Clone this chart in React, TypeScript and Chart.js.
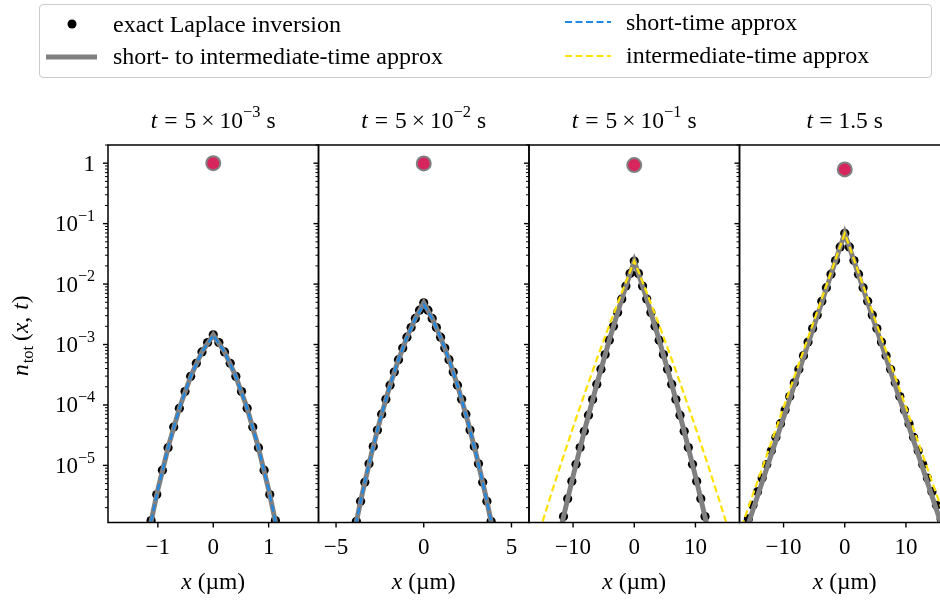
import React, { useEffect, useRef } from "react";
import { Chart, registerables } from "chart.js";

Chart.register(...registerables);

// ---------------- data ----------------
const RED_X = [0, 0, 0, 0];
const RED_Y = [1.0, 0.99, 0.93, 0.79];

// panel 1 : t = 5e-3 s
const P1_DOT_X = [-1.122, -1.02, -0.918, -0.816, -0.714, -0.612, -0.51, -0.408, -0.306, -0.204, -0.102, 0, 0.102, 0.204, 0.306, 0.408, 0.51, 0.612, 0.714, 0.816, 0.918, 1.02, 1.122];
const P1_DOT_Y = [1.22e-6, 3.3e-6, 8.34e-6, 1.96e-5, 4.3e-5, 8.79e-5, 1.67e-4, 2.97e-4, 4.9e-4, 7.54e-4, 1.08e-3, 1.45e-3, 1.08e-3, 7.54e-4, 4.9e-4, 2.97e-4, 1.67e-4, 8.79e-5, 4.3e-5, 1.96e-5, 8.34e-6, 3.3e-6, 1.22e-6];
const P1_LINE_X = [-1.2, -1.0, -0.8, -0.6, -0.4, -0.2, 0, 0.2, 0.4, 0.6, 0.8, 1.0, 1.2];
const P1_GRAY_Y = [5.42e-7, 3.98e-6, 2.23e-5, 9.51e-5, 3.09e-4, 7.66e-4, 1.45e-3, 7.66e-4, 3.09e-4, 9.51e-5, 2.23e-5, 3.98e-6, 5.42e-7];
const P1_BLUE_Y = [5.42e-7, 3.98e-6, 2.23e-5, 9.51e-5, 3.09e-4, 7.66e-4, 1.42e-3, 7.66e-4, 3.09e-4, 9.51e-5, 2.23e-5, 3.98e-6, 5.42e-7];

// panel 2 : t = 5e-2 s
const P2_DOT_X = [-3.84, -3.6, -3.36, -3.12, -2.88, -2.64, -2.4, -2.16, -1.92, -1.68, -1.44, -1.2, -0.96, -0.72, -0.48, -0.24, 0, 0.24, 0.48, 0.72, 0.96, 1.2, 1.44, 1.68, 1.92, 2.16, 2.4, 2.64, 2.88, 3.12, 3.36, 3.6, 3.84];
const P2_DOT_Y = [1.19e-6, 2.55e-6, 5.27e-6, 1.06e-5, 2.05e-5, 3.85e-5, 7.03e-5, 1.24e-4, 2.12e-4, 3.51e-4, 5.62e-4, 8.73e-4, 1.32e-3, 1.91e-3, 2.7e-3, 3.7e-3, 4.9e-3, 3.7e-3, 2.7e-3, 1.91e-3, 1.32e-3, 8.73e-4, 5.62e-4, 3.51e-4, 2.12e-4, 1.24e-4, 7.03e-5, 3.85e-5, 2.05e-5, 1.06e-5, 5.27e-6, 2.55e-6, 1.19e-6];
const P2_LINE_X = [-4, -3.5, -3, -2.5, -2, -1.5, -1, -0.5, 0, 0.5, 1, 1.5, 2, 2.5, 3, 3.5, 4];
const P2_GRAY_Y = [7.08e-7, 3.47e-6, 1.48e-5, 5.5e-5, 1.78e-4, 5.01e-4, 1.23e-3, 2.63e-3, 4.9e-3, 2.63e-3, 1.23e-3, 5.01e-4, 1.78e-4, 5.5e-5, 1.48e-5, 3.47e-6, 7.08e-7];
const P2_BLUE_Y = [7.08e-7, 3.47e-6, 1.48e-5, 5.5e-5, 1.78e-4, 5.01e-4, 1.23e-3, 2.6e-3, 4.6e-3, 2.6e-3, 1.23e-3, 5.01e-4, 1.78e-4, 5.5e-5, 1.48e-5, 3.47e-6, 7.08e-7];

// panel 3 : t = 5e-1 s
const P3_DOT_X = [-11.56, -10.88, -10.2, -9.52, -8.84, -8.16, -7.48, -6.8, -6.12, -5.44, -4.76, -4.08, -3.4, -2.72, -2.04, -1.36, -0.68, 0, 0.68, 1.36, 2.04, 2.72, 3.4, 4.08, 4.76, 5.44, 6.12, 6.8, 7.48, 8.16, 8.84, 9.52, 10.2, 10.88, 11.56];
const P3_DOT_Y = [1.43e-6, 2.81e-6, 5.46e-6, 1.04e-5, 1.97e-5, 3.67e-5, 6.76e-5, 1.23e-4, 2.21e-4, 3.91e-4, 6.84e-4, 1.18e-3, 2.01e-3, 3.39e-3, 5.64e-3, 9.25e-3, 1.5e-2, 2.4e-2, 1.5e-2, 9.25e-3, 5.64e-3, 3.39e-3, 2.01e-3, 1.18e-3, 6.84e-4, 3.91e-4, 2.21e-4, 1.23e-4, 6.76e-5, 3.67e-5, 1.97e-5, 1.04e-5, 5.46e-6, 2.81e-6, 1.43e-6];
const P3_LINE_X = [-12, -10, -8, -6, -4, -2, 0, 2, 4, 6, 8, 10, 12];
const P3_GRAY_Y = [9.2e-7, 6.61e-6, 4.25e-5, 2.44e-4, 1.26e-3, 5.81e-3, 2.4e-2, 5.81e-3, 1.26e-3, 2.44e-4, 4.25e-5, 6.61e-6, 9.2e-7];
const P3_YEL_X = [-16, -14, -12, -10, -8, -6, -4, -2, 0, 2, 4, 6, 8, 10, 12, 14, 16];
const P3_YEL_Y = [5.5e-7, 2.45e-6, 1.05e-5, 4.27e-5, 1.66e-4, 6.17e-4, 2.19e-3, 7.41e-3, 2.4e-2, 7.41e-3, 2.19e-3, 6.17e-4, 1.66e-4, 4.27e-5, 1.05e-5, 2.45e-6, 5.5e-7];

// panel 4 : t = 1.5 s
const P4_DOT_X = [-15.75, -15, -14.25, -13.5, -12.75, -12, -11.25, -10.5, -9.75, -9, -8.25, -7.5, -6.75, -6, -5.25, -4.5, -3.75, -3, -2.25, -1.5, -0.75, 0, 0.75, 1.5, 2.25, 3, 3.75, 4.5, 5.25, 6, 6.75, 7.5, 8.25, 9, 9.75, 10.5, 11.25, 12, 12.75, 13.5, 14.25, 15, 15.75];
const P4_DOT_Y = [1.3e-6, 2.19e-6, 3.67e-6, 6.17e-6, 1.035e-5, 1.74e-5, 2.92e-5, 4.9e-5, 8.22e-5, 1.38e-4, 2.32e-4, 3.89e-4, 6.53e-4, 1.1e-3, 1.84e-3, 3.09e-3, 5.19e-3, 8.71e-3, 1.46e-2, 2.455e-2, 4.12e-2, 6.92e-2, 4.12e-2, 2.455e-2, 1.46e-2, 8.71e-3, 5.19e-3, 3.09e-3, 1.84e-3, 1.1e-3, 6.53e-4, 3.89e-4, 2.32e-4, 1.38e-4, 8.22e-5, 4.9e-5, 2.92e-5, 1.74e-5, 1.035e-5, 6.17e-6, 3.67e-6, 2.19e-6, 1.3e-6];
const P4_LINE_X = [-16, -12, -8, -4, 0, 4, 8, 12, 16];
const P4_GRAY_Y = [9.12e-7, 1.51e-5, 2.51e-4, 4.17e-3, 6.92e-2, 4.17e-3, 2.51e-4, 1.51e-5, 9.12e-7];
const P4_YEL_X = [-18, -12, -8, -4, 0, 4, 8, 12, 18];
const P4_YEL_Y = [4.53e-7, 2.42e-5, 3.44e-4, 4.88e-3, 6.92e-2, 4.88e-3, 3.44e-4, 2.42e-5, 4.53e-7];

// axes
const X_MIN = [-1.9, -6.0, -17.2, -17.2];
const X_MAX = [1.9, 6.0, 17.2, 17.2];
const X_TICKS = [[-1, 0, 1], [-5, 0, 5], [-10, 0, 10], [-10, 0, 10]];
const Y_MIN = 1.135e-6;
const Y_MAX = 2.0;
const Y_TICKS = [1, 1e-1, 1e-2, 1e-3, 1e-4, 1e-5];
const Y_TICK_BASE = ["1", "10", "10", "10", "10", "10"];
const Y_TICK_EXP = ["", "−1", "−2", "−3", "−4", "−5"];

const LEGEND_LABELS = ["exact Laplace inversion", "short- to intermediate-time approx", "short-time approx", "intermediate-time approx"];

type Seg = { t: string; it?: boolean; sup?: boolean; sub?: boolean; gap?: number };
const TITLE_SEGS: Seg[][] = [
  [{ t: "t", it: true }, { t: "=", gap: 7 }, { t: "5", gap: 7 }, { t: "×", gap: 5 }, { t: "10", gap: 5 }, { t: "−3", sup: true }, { t: "s", gap: 6 }],
  [{ t: "t", it: true }, { t: "=", gap: 7 }, { t: "5", gap: 7 }, { t: "×", gap: 5 }, { t: "10", gap: 5 }, { t: "−2", sup: true }, { t: "s", gap: 6 }],
  [{ t: "t", it: true }, { t: "=", gap: 7 }, { t: "5", gap: 7 }, { t: "×", gap: 5 }, { t: "10", gap: 5 }, { t: "−1", sup: true }, { t: "s", gap: 6 }],
  [{ t: "t", it: true }, { t: "=", gap: 6 }, { t: "1.5", gap: 6 }, { t: "s", gap: 6 }],
];
const X_LABEL: Seg[] = [{ t: "x", it: true }, { t: "(µm)", gap: 6 }];
const Y_LABEL: Seg[] = [{ t: "n", it: true }, { t: "tot", sub: true, gap: 1 }, { t: "(", gap: 5 }, { t: "x", it: true }, { t: "," }, { t: "t", it: true, gap: 7 }, { t: ")" }];

// ---------------- styles / layout ----------------
const FONT = "'Liberation Serif', 'Times New Roman', Times, serif";
const FS_TICK = 23;
const FS_LABEL = 23.5;
const FS_LEGEND = 24;
const FIG_W = 960;
const FIG_H = 600;
const PANEL_LEFT = [108, 318.5, 529, 739.5];
const PANEL_W = 210.5;
const PANEL_TOP = 145;
const PANEL_BOTTOM = 522.5;
const AXIS_W = 60;
const AXIS_H = 60;

const C_DOT = "#000000";
const C_GRAY = "#808080";
const C_BLUE = "#1e88e5";
const C_YEL = "#ffe100";
const C_RED = "#d7265e";

const pts = (xs: number[], ys: number[]) => xs.map((x, i) => ({ x, y: ys[i] }));

type PanelDef = {
  dots: [number[], number[]];
  gray: [number[], number[]];
  blue?: [number[], number[]];
  yel?: [number[], number[]];
};
const PANELS: PanelDef[] = [
  { dots: [P1_DOT_X, P1_DOT_Y], gray: [P1_LINE_X, P1_GRAY_Y], blue: [P1_LINE_X, P1_BLUE_Y] },
  { dots: [P2_DOT_X, P2_DOT_Y], gray: [P2_LINE_X, P2_GRAY_Y], blue: [P2_LINE_X, P2_BLUE_Y] },
  { dots: [P3_DOT_X, P3_DOT_Y], gray: [P3_LINE_X, P3_GRAY_Y], yel: [P3_YEL_X, P3_YEL_Y] },
  { dots: [P4_DOT_X, P4_DOT_Y], gray: [P4_LINE_X, P4_GRAY_Y], yel: [P4_YEL_X, P4_YEL_Y] },
];

function segFont(s: Seg, fs: number) {
  const size = s.sup || s.sub ? fs * 0.7 : fs;
  return `${s.it ? "italic " : ""}${size}px ${FONT}`;
}

function drawRich(ctx: CanvasRenderingContext2D, segs: Seg[], x: number, y: number, fs: number, align: "center" | "right" = "center") {
  let total = 0;
  const widths = segs.map((s) => {
    ctx.font = segFont(s, fs);
    const w = ctx.measureText(s.t).width + (s.gap || 0);
    total += w;
    return w;
  });
  let cx = align === "center" ? x - total / 2 : x - total;
  ctx.textAlign = "left";
  ctx.textBaseline = "alphabetic";
  ctx.fillStyle = "#000";
  segs.forEach((s, i) => {
    ctx.font = segFont(s, fs);
    const dy = s.sup ? -fs * 0.45 : s.sub ? fs * 0.22 : 0;
    ctx.fillText(s.t, cx + (s.gap || 0), y + dy);
    cx += widths[i];
  });
}

function framePlugin(idx: number) {
  return {
    id: "frame" + idx,
    afterDraw(chart: any) {
      const ctx: CanvasRenderingContext2D = chart.ctx;
      const a = chart.chartArea;
      const xs = chart.scales.x;
      const ys = chart.scales.y;
      ctx.save();
      ctx.strokeStyle = "#000";
      // y ticks (major + minor), outward on the left spine
      for (let e = -7; e <= 0; e++) {
        for (let m = 1; m <= 9; m++) {
          const v = m * Math.pow(10, e);
          if (v < Y_MIN || v > Y_MAX) continue;
          const py = ys.getPixelForValue(v);
          const major = m === 1;
          ctx.lineWidth = major ? 1.4 : 1;
          ctx.beginPath();
          ctx.moveTo(a.left, py);
          ctx.lineTo(a.left - (major ? 5 : 3), py);
          ctx.stroke();
        }
      }
      // x ticks
      ctx.lineWidth = 1.4;
      X_TICKS[idx].forEach((v) => {
        const px = xs.getPixelForValue(v);
        ctx.beginPath();
        ctx.moveTo(px, a.bottom);
        ctx.lineTo(px, a.bottom + 5);
        ctx.stroke();
      });
      // spines
      ctx.lineWidth = 1.5;
      ctx.strokeRect(a.left, a.top, a.right - a.left, a.bottom - a.top);
      // y tick labels (first panel only)
      if (idx === 0) {
        Y_TICKS.forEach((v, i) => {
          const py = ys.getPixelForValue(v);
          const segs: Seg[] = [{ t: Y_TICK_BASE[i] }];
          if (Y_TICK_EXP[i]) segs.push({ t: Y_TICK_EXP[i], sup: true });
          drawRich(ctx, segs, a.left - 13, py + 7.5, FS_TICK, "right");
        });
      }
      // titles and labels
      const cx = (a.left + a.right) / 2;
      drawRich(ctx, TITLE_SEGS[idx], cx, 128, FS_LABEL);
      drawRich(ctx, X_LABEL, cx, 589, FS_LABEL);
      if (idx === 0) {
        ctx.save();
        ctx.translate(28, (a.top + a.bottom) / 2 + 2);
        ctx.rotate(-Math.PI / 2);
        drawRich(ctx, Y_LABEL, 0, 0, FS_LABEL);
        ctx.restore();
      }
      ctx.restore();
    },
  };
}

function Panel({ idx }: { idx: number }) {
  const ref = useRef<HTMLCanvasElement>(null);
  useEffect(() => {
    const p = PANELS[idx];
    const datasets: any[] = [
      {
        data: pts(p.dots[0], p.dots[1]),
        showLine: false,
        pointRadius: 4.6,
        pointBackgroundColor: C_DOT,
        pointBorderWidth: 0,
        order: 4,
        clip: 0,
      },
      {
        data: pts(p.gray[0], p.gray[1]),
        showLine: true,
        borderColor: C_GRAY,
        borderWidth: 5,
        pointRadius: 0,
        order: 3,
        clip: 0,
      },
    ];
    if (p.blue)
      datasets.push({
        data: pts(p.blue[0], p.blue[1]),
        showLine: true,
        borderColor: C_BLUE,
        borderWidth: 2.2,
        borderDash: [7, 3.5],
        pointRadius: 0,
        order: 2,
        clip: 0,
      });
    if (p.yel)
      datasets.push({
        data: pts(p.yel[0], p.yel[1]),
        showLine: true,
        borderColor: C_YEL,
        borderWidth: 2.2,
        borderDash: [7, 3.5],
        pointRadius: 0,
        order: 1,
        clip: 0,
      });
    datasets.push({
      data: [{ x: RED_X[idx], y: RED_Y[idx] }],
      showLine: false,
      pointRadius: 7,
      pointBackgroundColor: C_RED,
      pointBorderColor: C_GRAY,
      pointBorderWidth: 2,
      order: 0,
      clip: false,
    });

    const left = PANEL_LEFT[idx];
    const chart = new Chart(ref.current as HTMLCanvasElement, {
      type: "scatter",
      data: { datasets },
      options: {
        responsive: false,
        animation: false,
        events: [],
        layout: {
          padding: {
            left: left - AXIS_W,
            right: FIG_W - (left + PANEL_W),
            top: PANEL_TOP,
            bottom: FIG_H - PANEL_BOTTOM - AXIS_H,
          },
        },
        plugins: {
          legend: { display: false },
          tooltip: { enabled: false },
          title: { display: false },
        },
        scales: {
          x: {
            type: "linear",
            min: X_MIN[idx],
            max: X_MAX[idx],
            afterBuildTicks: (s: any) => {
              s.ticks = X_TICKS[idx].map((v) => ({ value: v }));
            },
            afterFit: (s: any) => {
              s.height = AXIS_H;
            },
            grid: { display: false, drawTicks: false },
            border: { display: false },
            ticks: {
              autoSkip: false,
              maxRotation: 0,
              padding: 12,
              color: "#000",
              font: { family: FONT, size: FS_TICK },
              callback: (v: any) => String(v).replace("-", "−"),
            },
          },
          y: {
            type: "logarithmic",
            min: Y_MIN,
            max: Y_MAX,
            afterBuildTicks: (s: any) => {
              s.ticks = Y_TICKS.map((v) => ({ value: v }));
            },
            afterFit: (s: any) => {
              s.width = AXIS_W;
            },
            grid: { display: false, drawTicks: false },
            border: { display: false },
            ticks: { display: false },
          },
        },
      },
      plugins: [framePlugin(idx)],
    } as any);
    return () => chart.destroy();
  }, [idx]);
  return (
    <canvas
      ref={ref}
      width={FIG_W}
      height={FIG_H}
      style={{ position: "absolute", left: 0, top: 0, width: FIG_W, height: FIG_H }}
    />
  );
}

function Legend() {
  const textStyle = (left: number, cy: number): React.CSSProperties => ({
    position: "absolute",
    left,
    top: cy - 14,
    lineHeight: "28px",
    fontFamily: FONT,
    fontSize: FS_LEGEND,
    color: "#000",
    whiteSpace: "nowrap",
  });
  return (
    <>
      <div
        style={{
          position: "absolute",
          left: 39,
          top: 4,
          width: 893,
          height: 74,
          border: "1px solid #cccccc",
          borderRadius: 4,
          boxSizing: "border-box",
          background: "rgba(255,255,255,0.8)",
        }}
      />
      <svg width={940} height={80} style={{ position: "absolute", left: 0, top: 0 }}>
        <circle cx={72} cy={24} r={4.5} fill={C_DOT} />
        <line x1={46} y1={57} x2={97} y2={57} stroke={C_GRAY} strokeWidth={5} />
        <line x1={565} y1={22} x2={611} y2={22} stroke={C_BLUE} strokeWidth={2.2} strokeDasharray="7 3.5" />
        <line x1={565} y1={56} x2={611} y2={56} stroke={C_YEL} strokeWidth={2.2} strokeDasharray="7 3.5" />
      </svg>
      <div style={textStyle(113, 24)}>{LEGEND_LABELS[0]}</div>
      <div style={textStyle(113, 56)}>{LEGEND_LABELS[1]}</div>
      <div style={textStyle(626, 22)}>{LEGEND_LABELS[2]}</div>
      <div style={textStyle(626, 55)}>{LEGEND_LABELS[3]}</div>
    </>
  );
}

export default function App() {
  return (
    <div
      style={{
        position: "absolute",
        left: 0,
        top: 0,
        width: 940,
        height: 600,
        overflow: "hidden",
        background: "#ffffff",
      }}
    >
      {[0, 1, 2, 3].map((i) => (
        <Panel key={i} idx={i} />
      ))}
      <Legend />
    </div>
  );
}
